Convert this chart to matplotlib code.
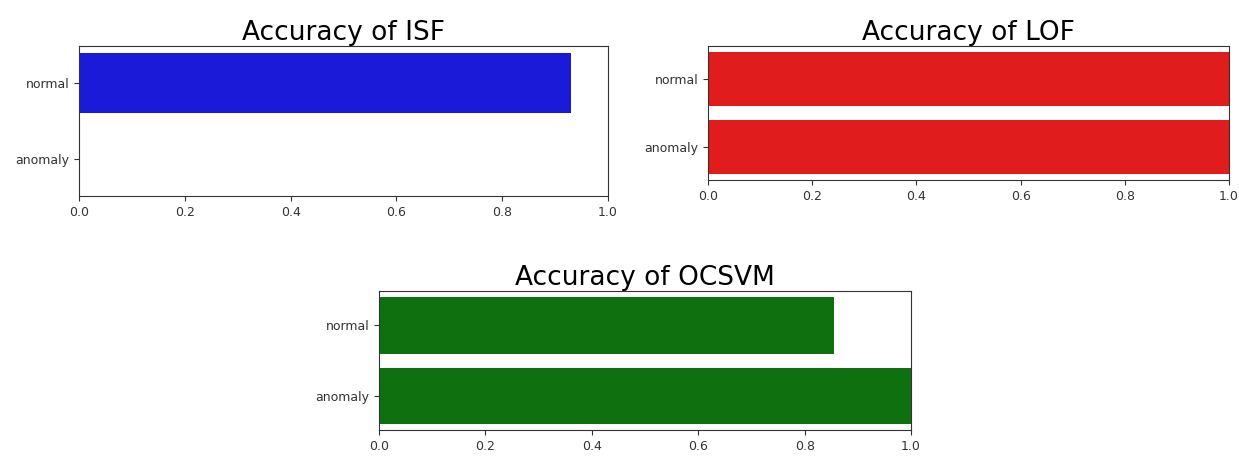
import matplotlib
matplotlib.use("Agg")
import matplotlib.pyplot as plt

labels = ['anomaly', 'normal']
isf_acc = [0.0, 0.93]
lof_acc = [1.0, 1.0]
ocsvm_acc = [1.0, 0.855]

fig = plt.figure(figsize=(12.39, 4.74), dpi=100)

# axes boxes (fractions of figure)
ax1 = fig.add_axes([0.0638, 0.5865, 0.427, 0.3165])
ax2 = fig.add_axes([0.5714, 0.6203, 0.4205, 0.2827])
ax3 = fig.add_axes([0.3059, 0.0928, 0.4294, 0.2932])

panels = [(ax1, isf_acc, '#1a1ad8', 'ISF'),
          (ax2, lof_acc, '#e01c1c', 'LOF'),
          (ax3, ocsvm_acc, '#0f700f', 'OCSVM')]

for ax, acc, col, name in panels:
    ax.barh(labels, acc, color=col)
    ax.set_xlim(0, 1.0)
    ax.set_title(f'Accuracy of {name}', fontsize=19, pad=4)
    ax.tick_params(labelsize=9, colors='#333333')
    for sp in ax.spines.values():
        sp.set_color('#333333')

fig.savefig('out.png', dpi=100)
